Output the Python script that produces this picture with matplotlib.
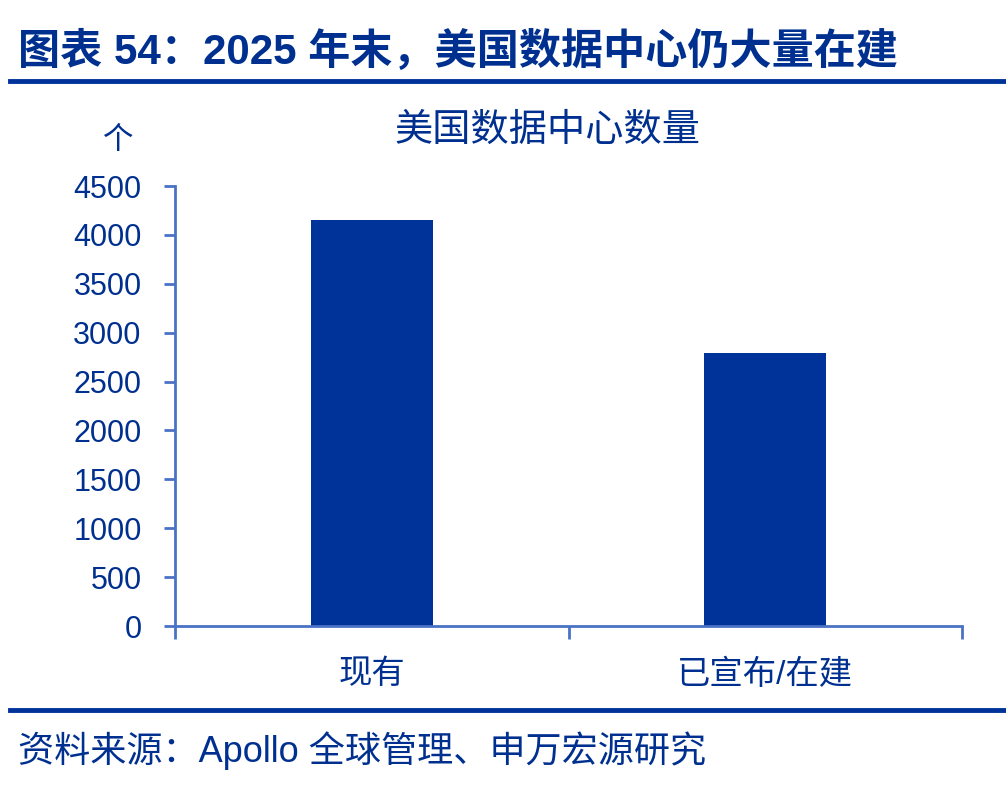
import matplotlib
matplotlib.use("Agg")
import matplotlib.pyplot as plt
import numpy as np

categories = ["现有", "已宣布/在建"]
values = [4150, 2795]
y_ticks = [0, 500, 1000, 1500, 2000, 2500, 3000, 3500, 4000, 4500]

plt.rcParams['font.family'] = ['Liberation Sans', 'Noto Sans CJK SC', 'DejaVu Sans']

TEXT = "#00308F"
BAR = "#003399"
AXC = "#4A72C4"

fig = plt.figure(figsize=(10.06, 7.86), dpi=100)
ax = fig.add_axes([175/1006, 1-626/786, (962-175)/1006, (626-186)/786])

x = np.arange(len(categories))
ax.bar(x, values, width=0.31, color=BAR, zorder=2)
ax.set_xlim(-0.5, len(categories) - 0.5)
ax.set_ylim(0, 4500)
ax.set_yticks(y_ticks)
ax.set_yticklabels([str(v) for v in y_ticks], fontsize=22, color=TEXT)

ax.set_xticks(x)
ax.set_xticklabels(categories, fontsize=24, color=TEXT)
ax.tick_params(axis='x', length=0, pad=24)
ax.set_xticks([-0.5, 0.5, 1.5], minor=True)
ax.tick_params(axis='x', which='minor', length=9, width=2, color=AXC, direction='out')
ax.tick_params(axis='y', length=8, width=2, color=AXC, direction='out', pad=16)

for s in ['top', 'right']:
    ax.spines[s].set_visible(False)
for s in ['left', 'bottom']:
    ax.spines[s].set_color(AXC)
    ax.spines[s].set_linewidth(2)

# Titles and texts
fig.text(18/1006, 1-52/786, "图表 54：2025 年末，美国数据中心仍大量在建", fontsize=30.3,
         fontweight='bold', color=TEXT, ha='left', va='center')
fig.add_artist(plt.Line2D([10/1006, 1.0], [1-81/786, 1-81/786], color=BAR, linewidth=3.5))
fig.text(547/1006, 1-131/786, "美国数据中心数量", fontsize=27.5, color=TEXT, ha='center', va='center')
fig.text(118/1006, 1-141/786, "个", fontsize=22, color=TEXT, ha='center', va='center')
fig.add_artist(plt.Line2D([10/1006, 1.0], [1-710/786, 1-710/786], color=BAR, linewidth=3.5))
fig.text(18/1006, 1-751/786, "资料来源：Apollo 全球管理、申万宏源研究", fontsize=26, color=TEXT,
         ha='left', va='center')

fig.savefig("out.png", dpi=100)
